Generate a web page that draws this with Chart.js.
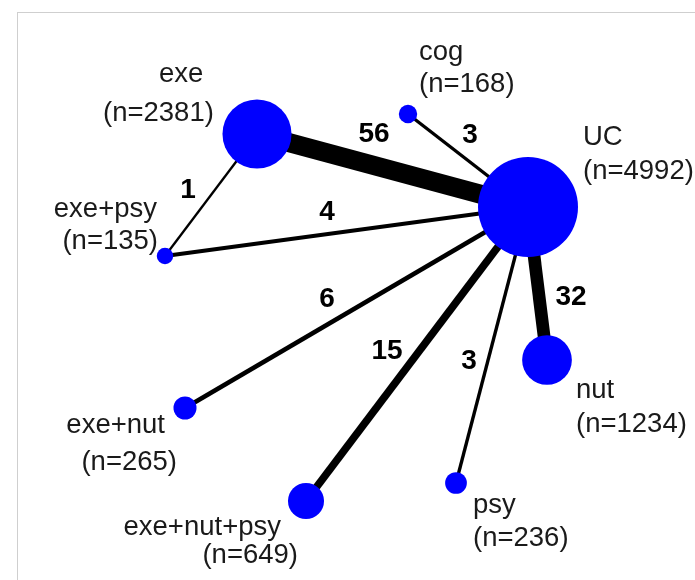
<!DOCTYPE html>
<html lang="en">
<head>
    <meta charset="UTF-8">
    <title>Network plot</title>
    <script src="https://cdn.jsdelivr.net/npm/chart.js"></script>
    <style>
        html, body { margin: 0; padding: 0; background: #fff; overflow: hidden; }
        .moldura {
            position: absolute; left: 17px; top: 12px; width: 700px; height: 600px;
            border-top: 1px solid #cfcfcf; border-left: 1px solid #cfcfcf;
        }
        #rede { position: absolute; left: 0; top: 0; }
    </style>
</head>
<body>
    <div class="moldura"></div>
    <canvas id="rede" width="695" height="580"></canvas>

<script>
// treatments (nodes) and number of participants
const nodes  = ['UC', 'exe', 'cog', 'exe+psy', 'exe+nut', 'exe+nut+psy', 'psy', 'nut'];
const nodeN  = [4992, 2381, 168, 135, 265, 649, 236, 1234];
// layout of the network (same units as the axes)
const nodeX  = [528, 257, 408, 165, 185, 306, 456, 547];
const nodeY  = [207, 134, 114, 256, 408, 501, 483, 360];

// comparisons (edges) and number of studies
const edgeFrom  = ['exe', 'cog', 'exe', 'exe+psy', 'exe+nut', 'exe+nut+psy', 'psy', 'nut'];
const edgeTo    = ['UC', 'UC', 'exe+psy', 'UC', 'UC', 'UC', 'UC', 'UC'];
const edgeCount = [56, 3, 1, 4, 6, 15, 3, 32];
const edgeLabelX = [374, 470, 188, 327, 327, 387, 469, 571];
const edgeLabelY = [133, 134, 189, 211, 298, 350, 360, 296];

// where the node labels go
const nameX     = [583, 159, 419, 157, 165, 281, 473, 576];
const nameY     = [145, 82, 60, 217, 433, 535, 513, 398];
const countX    = [583, 103, 419, 158, 177, 298, 473, 576];
const countY    = [179, 121, 92, 249, 470, 563, 546, 432];
const labelSide = ['left', 'left', 'left', 'right', 'right', 'right', 'left', 'left'];

function raio(n) {
    return 50 * Math.sqrt(n / 4992);
}

function espessura(k) {
    return 1.2 + 0.9 * Math.sqrt(k) + 0.2 * k;
}

const datasets = [];

datasets.push({
    label: 'nodes',
    data: nodes.map((nome, i) => ({ x: nodeX[i], y: nodeY[i] })),
    pointRadius: nodeN.map(raio),
    pointHoverRadius: nodeN.map(raio),
    pointBackgroundColor: '#0000ff',
    pointBorderWidth: 0,
    order: 0
});

for (let i = 0; i < edgeFrom.length; i++) {
    const a = nodes.indexOf(edgeFrom[i]);
    const b = nodes.indexOf(edgeTo[i]);
    datasets.push({
        label: edgeFrom[i] + ' - ' + edgeTo[i],
        data: [{ x: nodeX[a], y: nodeY[a] }, { x: nodeX[b], y: nodeY[b] }],
        showLine: true,
        borderColor: '#000000',
        borderWidth: espessura(edgeCount[i]),
        pointRadius: 0,
        order: 1
    });
}

const rotulos = {
    id: 'rotulos',
    afterDatasetsDraw(chart) {
        const ctx = chart.ctx;
        const sx = chart.scales.x;
        const sy = chart.scales.y;
        ctx.save();
        ctx.fillStyle = '#1a1a1a';
        ctx.textBaseline = 'alphabetic';
        ctx.font = '27.5px "Liberation Sans", Arial, sans-serif';
        for (let i = 0; i < nodes.length; i++) {
            ctx.textAlign = labelSide[i];
            ctx.fillText(nodes[i], sx.getPixelForValue(nameX[i]), sy.getPixelForValue(nameY[i]));
            ctx.fillText('(n=' + nodeN[i] + ')', sx.getPixelForValue(countX[i]), sy.getPixelForValue(countY[i]));
        }
        ctx.fillStyle = '#000';
        ctx.font = 'bold 28px "Liberation Sans", Arial, sans-serif';
        ctx.textAlign = 'center';
        ctx.textBaseline = 'middle';
        for (let i = 0; i < edgeCount.length; i++) {
            ctx.fillText(String(edgeCount[i]), sx.getPixelForValue(edgeLabelX[i]), sy.getPixelForValue(edgeLabelY[i]) + 1);
        }
        ctx.restore();
    }
};

new Chart(document.getElementById('rede').getContext('2d'), {
    type: 'scatter',
    data: { datasets: datasets },
    options: {
        responsive: false,
        animation: false,
        devicePixelRatio: 1,
        layout: { padding: 0, autoPadding: false },
        plugins: {
            legend: { display: false },
            tooltip: { enabled: false }
        },
        scales: {
            x: { type: 'linear', min: 0, max: 695, display: false },
            y: { type: 'linear', min: 0, max: 580, reverse: true, display: false }
        }
    },
    plugins: [rotulos]
});
</script>
</body>
</html>
